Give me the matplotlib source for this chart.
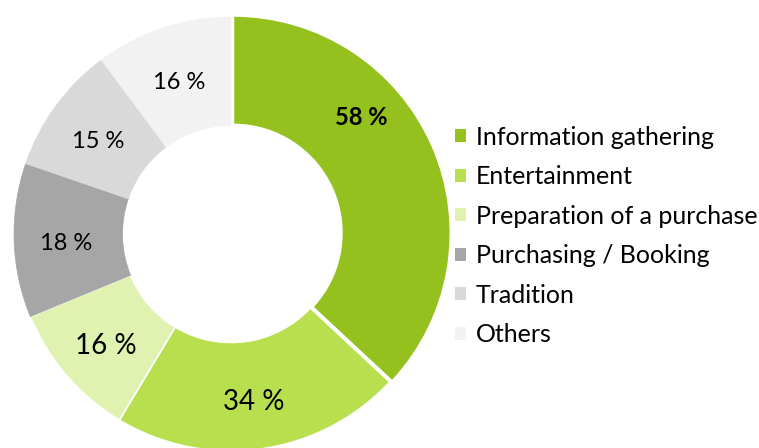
import matplotlib
matplotlib.use("Agg")
import matplotlib.pyplot as plt
import numpy as np

categories = ["Information gathering", "Entertainment", "Preparation of a purchase",
              "Purchasing / Booking", "Tradition", "Others"]
values = [58, 34, 16, 18, 15, 16]
labels = ["58 %", "34 %", "16 %", "18 %", "15 %", "16 %"]
colors = ["#95C11F", "#B8E04E", "#DFF2B0", "#A6A6A6", "#D9D9D9", "#F2F2F2"]
explode = [0.012, 0, 0, 0, 0, 0]
label_sizes = [17, 20, 20, 17, 17, 17]
label_weights = ["bold", "normal", "normal", "normal", "normal", "normal"]

plt.rcParams['font.family'] = ['Lato', 'DejaVu Sans']

W, H = 759, 448
fig = plt.figure(figsize=(W / 100, H / 100), dpi=100)
cx, cy, R = 231, 234, 217
ax = fig.add_axes([(cx - R) / W, (H - cy - R) / H, 2 * R / W, 2 * R / H])

wedges, _ = ax.pie(values, colors=colors, startangle=90, counterclock=False,
                   explode=explode, radius=1.0,
                   wedgeprops=dict(width=0.5, edgecolor="white", linewidth=1.2))
# gray slices without visible edges
for w in wedges[3:]:
    w.set_edgecolor(w.get_facecolor())
    w.set_linewidth(0.5)

total = sum(values)
cum = np.cumsum([0] + values)
for i, (lab, v) in enumerate(zip(labels, values)):
    mid = cum[i] + v / 2
    ang = np.deg2rad(90 - mid / total * 360)
    r = 0.76
    if i == 0:
        ang += np.deg2rad(19.5)
        r = 0.82
    ax.annotate(lab, xy=(r * np.cos(ang), r * np.sin(ang)), xytext=(0, -3.5),
                textcoords="offset points", ha="center", va="center",
                fontsize=label_sizes[i], fontweight=label_weights[i], color="black")

ax.set_xlim(-1, 1)
ax.set_ylim(-1, 1)
ax.set_aspect("equal")
ax.axis("off")

leg = fig.legend(wedges, categories, loc="upper left",
                 bbox_to_anchor=(455 / W, 1 - 125.5 / H), frameon=False,
                 fontsize=18, handlelength=0.42, handleheight=0.42,
                 handletextpad=0.4, labelspacing=0.66, borderaxespad=0, borderpad=0)
for h in leg.legend_handles:
    h.set_edgecolor("none")

fig.savefig("out.png", dpi=100)
